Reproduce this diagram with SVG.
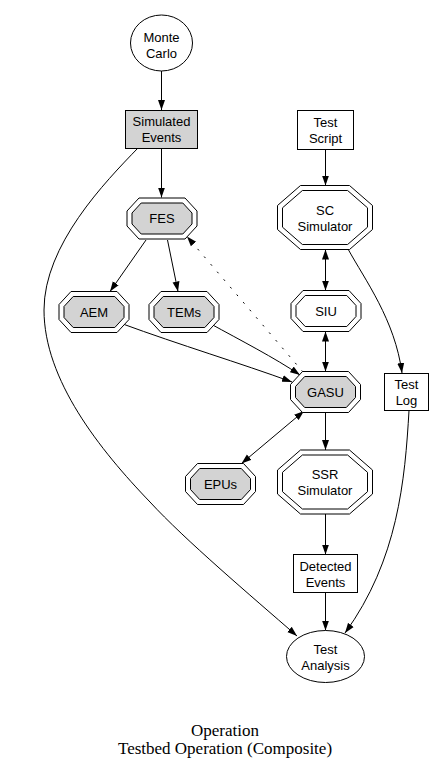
<svg xmlns="http://www.w3.org/2000/svg" xmlns:xlink="http://www.w3.org/1999/xlink" width="448" height="773" viewBox="0 0 448 773">
<style>
  .lbl { font-family: "Liberation Sans", Arial, sans-serif; font-size: 13px; fill: #000; text-anchor: middle; }
  .cap { font-family: "Liberation Serif", "Times New Roman", serif; font-size: 17px; fill: #000; text-anchor: middle; }
  .shape { stroke: #000; stroke-width: 1; }
  .edge { fill: none; stroke: #000; stroke-width: 1; }
  .gray { fill: #d3d3d3; }
  .white { fill: #fff; }
</style>
<defs>
  <marker id="arr" markerUnits="userSpaceOnUse" markerWidth="10" markerHeight="8" viewBox="0 0 10 8" refX="10" refY="4" orient="auto-start-reverse">
    <path d="M0,0.5 L10,4 L0,7.5 z" fill="#000"/>
  </marker>
  <g id="octS">
    <polygon fill="#fff" stroke="#000" points="-23,-20.5 23,-20.5 35,-7.5 35,7.5 23,20.5 -23,20.5 -35,7.5 -35,-7.5"/>
    <polygon stroke="#000" points="-20.8,-15.5 20.8,-15.5 30,-5.5 30,5.5 20.8,15.5 -20.8,15.5 -30,5.5 -30,-5.5"/>
  </g>
  <g id="octL">
    <polygon fill="#fff" stroke="#000" points="-24.5,-32 24.5,-32 47.5,-12 47.5,12 24.5,32 -24.5,32 -47.5,12 -47.5,-12"/>
    <polygon stroke="#000" points="-22.6,-27 22.6,-27 42.5,-9.7 42.5,9.7 22.6,27 -22.6,27 -42.5,9.7 -42.5,-9.7"/>
  </g>
</defs>
<rect width="448" height="773" fill="#fff"/>

<g id="edges">
  <path class="edge" marker-end="url(#arr)" d="M161.5,71 L161.5,110"/>
  <path class="edge" marker-end="url(#arr)" d="M161.5,148 L161.5,197.5"/>
  <path class="edge" marker-end="url(#arr)" d="M138,148 C105,182 44,245 44,310 C44,380 100,450 150,502 C185,540 250,595 297,636"/>
  <path class="edge" marker-end="url(#arr)" d="M325.5,149.5 L325.5,185.5"/>
  <path class="edge" marker-start="url(#arr)" marker-end="url(#arr)" d="M325.5,249.5 L325.5,290.5"/>
  <path class="edge" marker-start="url(#arr)" marker-end="url(#arr)" d="M325.5,331.5 L325.5,371.5"/>
  <path class="edge" marker-end="url(#arr)" d="M348,249 C365,280 395,320 402,373"/>
  <path class="edge" marker-end="url(#arr)" d="M409,410.5 C405,480 398,560 345,633"/>
  <path class="edge" marker-end="url(#arr)" d="M146,240 L110,291.5"/>
  <path class="edge" marker-end="url(#arr)" d="M167.5,240 L178,291.5"/>
  <path class="edge" marker-end="url(#arr)" stroke-dasharray="2,8" d="M303,372 L187,236.5"/>
  <path class="edge" marker-end="url(#arr)" d="M121.5,323.5 C180,345 240,363 292,382"/>
  <path class="edge" marker-end="url(#arr)" d="M210,323.5 C240,340 275,358 300,375"/>
  <path class="edge" marker-start="url(#arr)" marker-end="url(#arr)" d="M304,411 L241.5,463.5"/>
  <path class="edge" marker-end="url(#arr)" d="M325.5,412.5 L325.5,450"/>
  <path class="edge" marker-end="url(#arr)" d="M325.5,514 L325.5,554.5"/>
  <path class="edge" marker-end="url(#arr)" d="M325.5,592.5 L325.5,630.5"/>
</g>

<g id="monte-carlo">
  <ellipse class="shape white" cx="161.5" cy="43" rx="31" ry="28"/>
  <text class="lbl" x="161.5" y="42">Monte</text>
  <text class="lbl" x="161.5" y="58">Carlo</text>
</g>
<g id="simulated-events">
  <rect class="shape gray" x="125.5" y="110.5" width="72" height="38"/>
  <text class="lbl" x="161.5" y="126">Simulated</text>
  <text class="lbl" x="161.5" y="142">Events</text>
</g>
<g id="fes">
  <use xlink:href="#octS" href="#octS" x="162" y="218.5" class="gray"/>
  <text class="lbl" x="162" y="223">FES</text>
</g>
<g id="test-script">
  <rect class="shape white" x="297.5" y="110.5" width="56" height="39"/>
  <text class="lbl" x="325.5" y="127">Test</text>
  <text class="lbl" x="325.5" y="143">Script</text>
</g>
<g id="sc-simulator">
  <use xlink:href="#octL" href="#octL" x="325" y="217.5" class="white"/>
  <text class="lbl" x="325" y="214.5">SC</text>
  <text class="lbl" x="325" y="230.5">Simulator</text>
</g>
<g id="siu">
  <use xlink:href="#octS" href="#octS" x="326" y="311" class="white"/>
  <text class="lbl" x="326" y="315.5">SIU</text>
</g>
<g id="aem">
  <use xlink:href="#octS" href="#octS" x="94" y="312" class="gray"/>
  <text class="lbl" x="94" y="316.5">AEM</text>
</g>
<g id="tems">
  <use xlink:href="#octS" href="#octS" x="184" y="312" class="gray"/>
  <text class="lbl" x="184" y="316.5">TEMs</text>
</g>
<g id="gasu">
  <use xlink:href="#octS" href="#octS" x="325.5" y="392" class="gray"/>
  <text class="lbl" x="325.5" y="396.5">GASU</text>
</g>
<g id="test-log">
  <rect class="shape white" x="384.5" y="373.5" width="44" height="37"/>
  <text class="lbl" x="406.5" y="389">Test</text>
  <text class="lbl" x="406.5" y="405">Log</text>
</g>
<g id="epus">
  <use xlink:href="#octS" href="#octS" x="220.5" y="484" class="gray"/>
  <text class="lbl" x="220.5" y="488.5">EPUs</text>
</g>
<g id="ssr-simulator">
  <use xlink:href="#octL" href="#octL" x="325" y="482" class="white"/>
  <text class="lbl" x="325" y="479">SSR</text>
  <text class="lbl" x="325" y="495">Simulator</text>
</g>
<g id="detected-events">
  <rect class="shape white" x="293.5" y="554.5" width="64" height="38"/>
  <text class="lbl" x="325.5" y="570.5">Detected</text>
  <text class="lbl" x="325.5" y="586.5">Events</text>
</g>
<g id="test-analysis">
  <ellipse class="shape white" cx="325.5" cy="656.5" rx="39" ry="26"/>
  <text class="lbl" x="325.5" y="653.5">Test</text>
  <text class="lbl" x="325.5" y="669.5">Analysis</text>
</g>

<g id="caption">
  <text class="cap" x="225" y="736">Operation</text>
  <text class="cap" x="225" y="754">Testbed Operation (Composite)</text>
</g>
</svg>
